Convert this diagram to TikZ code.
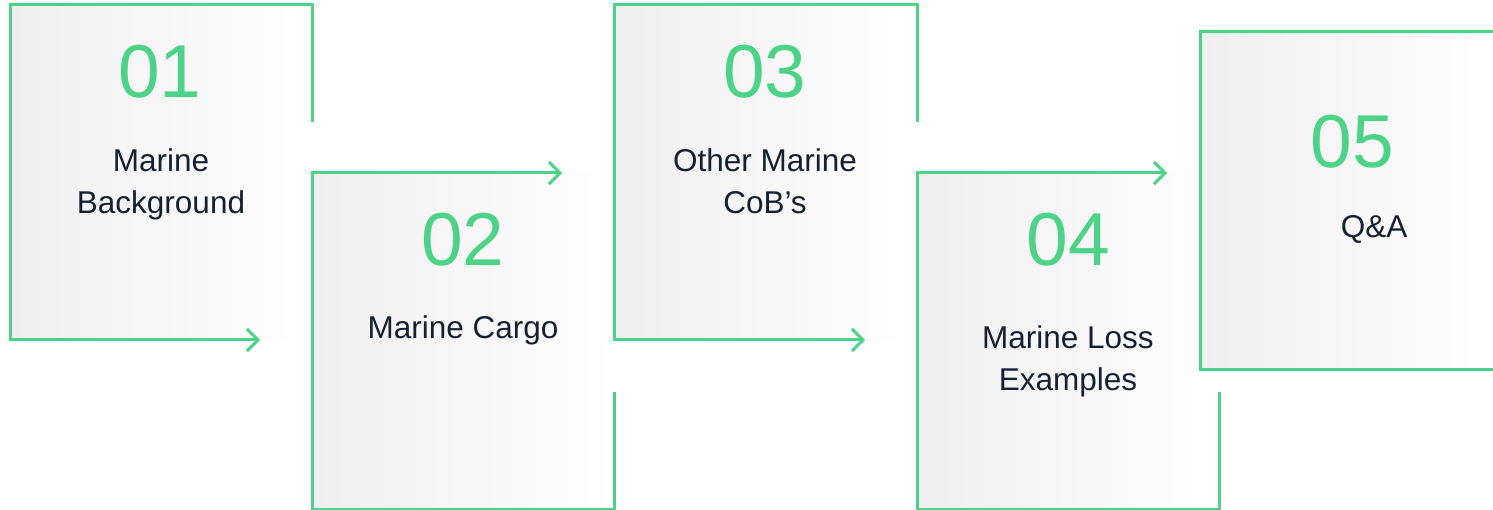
\documentclass[tikz,border=0pt]{standalone}
\usepackage{fontspec}
\setmainfont{Liberation Sans}
\usetikzlibrary{arrows.meta}
\definecolor{grn}{RGB}{77,211,135}
\definecolor{ink}{RGB}{22,32,52}
\definecolor{boxgray}{RGB}{239,239,239}
\begin{document}
\begin{tikzpicture}[x=1pt,y=-1pt,
  edge/.style={draw=grn, line width=3pt},
  tip/.style={-{Straight Barb[length=11pt,width=22pt]}},
  fillbox/.style={left color=boxgray, right color=white, draw=none},
  num/.style={text=grn, font=\fontsize{75}{90}\selectfont, inner sep=0pt},
  lbl/.style={text=ink, font=\fontsize{31.5}{42}\selectfont, align=center, inner sep=0pt}]
\useasboundingbox (0,0) rectangle (1493,510);
% box 1
\fill[fillbox] (10,5) rectangle (312,340);
\draw[edge, tip] (312,122) -- (312,5) -- (10,5) -- (10,340) -- (260,340);
% box 2
\fill[fillbox] (312,173) rectangle (614,509);
\draw[edge, tip] (614,392) -- (614,509) -- (312,509) -- (312,173) -- (562,173);
% box 3
\fill[fillbox] (614,5) rectangle (917,340);
\draw[edge, tip] (917,122) -- (917,5) -- (614,5) -- (614,340) -- (865,340);
% box 4
\fill[fillbox] (917,173) rectangle (1219,509);
\draw[edge, tip] (1219,392) -- (1219,509) -- (917,509) -- (917,173) -- (1167,173);
% box 5
\fill[fillbox] (1200,32) rectangle (1496,369);
\draw[edge] (1496,32) -- (1200,32) -- (1200,369) -- (1496,369);
% texts
\node[num] (n1) at (160,72) {01};
\node[lbl, anchor=north] (t1) at (161,148) {Marine\\Background};
\node[num] (n2) at (463,240) {02};
\node[lbl, anchor=base] (t2) at (463,338) {Marine Cargo};
\node[num] (n3) at (765,72) {03};
\node[lbl, anchor=north] (t3) at (765,148) {Other Marine\\CoB’s};
\node[num] (n4) at (1068,240) {04};
\node[lbl, anchor=north] (t4) at (1068,325) {Marine Loss\\Examples};
\node[num] (n5) at (1352,142) {05};
\node[lbl, anchor=base] (t5) at (1374,238) {Q\&A};
\end{tikzpicture}
\end{document}
